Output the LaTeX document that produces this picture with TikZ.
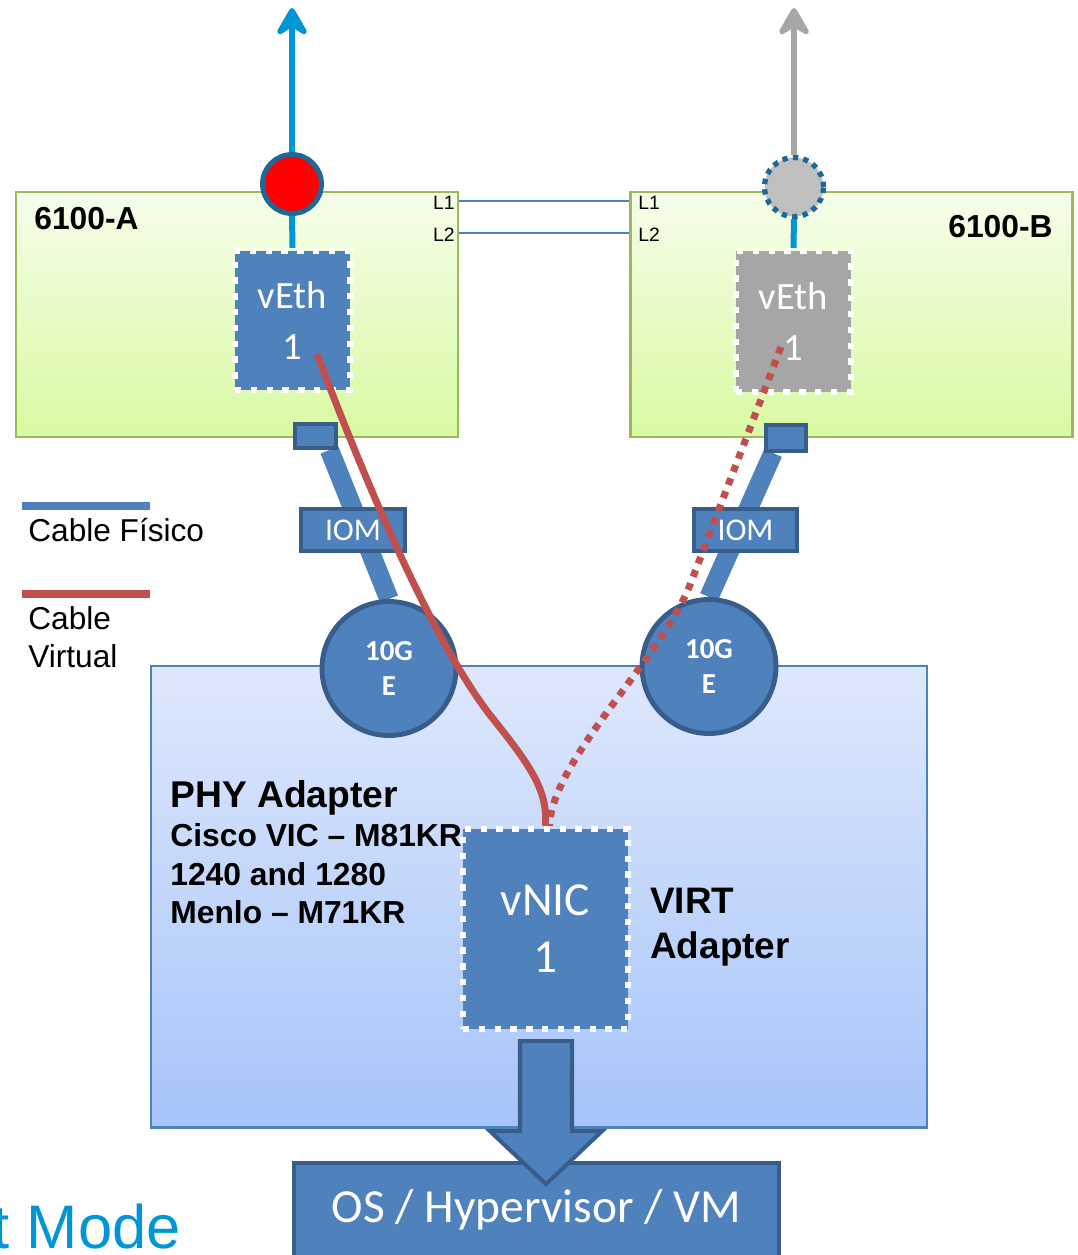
\documentclass[tikz,border=0pt]{standalone}
\usepackage{fontspec}
\setmainfont{Liberation Sans}
\newfontfamily\calibri{Carlito}
\usepackage{tikz}
\usetikzlibrary{arrows.meta, positioning, backgrounds}
\definecolor{ucsblue}{RGB}{79, 129, 189}
\definecolor{ucsdark}{RGB}{56, 93, 138}
\definecolor{ucscyan}{RGB}{0, 150, 214}
\definecolor{ucsred}{RGB}{192, 80, 77}
\definecolor{ucsgreen}{RGB}{155, 187, 89}
\definecolor{ucsgray}{RGB}{166, 166, 166}
\definecolor{ucsring}{RGB}{28, 104, 152}
\definecolor{limetop}{RGB}{246, 254, 234}
\definecolor{limebot}{RGB}{216, 250, 162}
\definecolor{phytop}{RGB}{222, 232, 252}
\definecolor{phybot}{RGB}{166, 196, 250}

\begin{document}
\begin{tikzpicture}[
    x=0.02cm, y=-0.02cm,
    fi/.style={
        rectangle, draw=ucsgreen, line width=1.2pt,
        top color=limetop, bottom color=limebot,
        minimum width=8.84cm, minimum height=4.9cm
    },
    adapter/.style={
        rectangle, draw=ucsblue, line width=1.2pt,
        top color=phytop, bottom color=phybot,
        minimum width=15.54cm, minimum height=9.24cm
    },
    vport/.style={
        rectangle, draw=white, line width=3.6pt,
        dash pattern=on 3.6pt off 5.4pt, text=white, align=center
    },
    hw/.style={
        rectangle, fill=ucsblue, draw=ucsdark, line width=2.3pt,
        text=white, inner sep=0pt, font=\calibri\fontsize{18}{20}\selectfont
    },
    tenge/.style={
        circle, fill=ucsblue, draw=ucsdark, line width=2.8pt,
        minimum size=2.68cm, text=white, align=center,
        font=\calibri\bfseries\fontsize{16.5}{20}\selectfont
    },
    uplink/.style={line width=3.4pt, -{Stealth[length=0.68cm, width=0.78cm, inset=0.24cm, round]}},
    downlink/.style={ucscyan, line width=3.4pt},
    link/.style={ucsblue, line width=1.2pt},
    phys/.style={ucsblue, line width=11pt},
    virt/.style={ucsred, line width=4pt},
    virtdot/.style={ucsred, line width=4pt, dash pattern=on 4pt off 4pt},
    lbl/.style={inner sep=0pt, anchor=base west, font=\fontsize{18}{22}\selectfont},
    title/.style={inner sep=0pt, anchor=base west, font=\bfseries\fontsize{18.1}{22}\selectfont}
]
\useasboundingbox (0,0) rectangle (1078,1255);
\clip (0,0) rectangle (1078,1255);

% fabric interconnects
\node[fi] (fia) at (237,314.5) {};
\node[fi] (fib) at (851.5,314.5) {};
\node[title] at (34,229) {6100-A};
\node[title, anchor=base east] at (1053,237) {6100-B};

\draw[link] ([yshift=-0.2cm]fia.north east) -- ([yshift=-0.2cm]fib.north west);
\draw[link] ([yshift=-0.84cm]fia.north east) -- ([yshift=-0.84cm]fib.north west);
\node[inner sep=0pt, anchor=base east, font=\fontsize{11}{13}\selectfont] at (455,209) {L1};
\node[inner sep=0pt, anchor=base east, font=\fontsize{11}{13}\selectfont] at (455,241) {L2};
\node[inner sep=0pt, anchor=base west, font=\fontsize{11}{13}\selectfont] at (638,209) {L1};
\node[inner sep=0pt, anchor=base west, font=\fontsize{11}{13}\selectfont] at (638,241) {L2};

% adapter card
\node[adapter] (phy) at (539,896.5) {};
\node[title, font=\bfseries\fontsize{21.2}{22}\selectfont] at (170,807) {PHY Adapter};
\node[title] at (170,846) {Cisco VIC – M81KR};
\node[title] at (170,885) {1240 and 1280};
\node[title] at (170,923) {Menlo – M71KR};
\node[title, font=\bfseries\fontsize{21}{25}\selectfont] at (650,913) {VIRT};
\node[title, font=\bfseries\fontsize{21}{25}\selectfont] at (650,958) {Adapter};

% ports, IOMs and uplinks
\node[hw, minimum width=0.82cm, minimum height=0.48cm] (porta) at (315.5,436) {};
\node[hw, minimum width=0.8cm, minimum height=0.52cm] (portb) at (786,438) {};
\node[hw, minimum width=2.08cm, minimum height=0.84cm] (ioma) at (353,530) {IOM};
\node[hw, minimum width=2.06cm, minimum height=0.84cm] (iomb) at (745.5,530) {IOM};
\node[tenge] (tenga) at (389,668.5) {10G\\E};
\node[tenge] (tengb) at (709,666.5) {10G\\E};

\begin{pgfonlayer}{background}
\draw[phys] ([xshift=0.28cm]porta.south) -- (tenga.north);
\draw[phys] ([xshift=-0.26cm]portb.south) -- (tengb.north);
\end{pgfonlayer}

% virtual interfaces
\node[vport, fill=ucsblue, minimum width=2.3cm, minimum height=2.78cm,
    font=\calibri\fontsize{22}{29.5}\selectfont] (vetha) at (292.5,320.5) {vEth\\1};
\node[vport, fill=ucsgray, minimum width=2.3cm, minimum height=2.82cm,
    font=\calibri\fontsize{22}{29.5}\selectfont] (vethb) at (793.5,321.5) {vEth\\1};
\node[vport, fill=ucsblue, minimum width=3.3cm, minimum height=4.0cm,
    font=\calibri\fontsize{27}{32.5}\selectfont] (vnic) at (545.5,929) {vNIC\\1};

\node[circle, fill=red, draw=ucsring, line width=2.8pt, minimum size=1.18cm, inner sep=0pt] (reda) at (292,184) {};
\node[circle, fill=gray!50, draw=ucsring, line width=3pt, dash pattern=on 3pt off 3pt,
    minimum size=1.18cm, inner sep=0pt] (grayb) at (794,187) {};
\coordinate (topa) at (292,8);
\coordinate (topb) at (794,8);
\draw[uplink, ucscyan] (reda.north) -- (topa);
\draw[downlink] (reda.south) -- (vetha.north);
\draw[uplink, ucsgray] (grayb.north) -- (topb);
\draw[downlink] (grayb.south) -- (vethb.north);

% virtual cables
\draw[virt] ([xshift=0.49cm, yshift=-0.67cm]vetha.center)
    .. controls (380,520) and (440,650) .. (490,715)
    .. controls (530,765) and (548,790) .. (vnic.north);
\draw[virtdot] ([xshift=-0.25cm, yshift=-0.51cm]vethb.center) -- (690,585)
    .. controls (660,660) and (552,760) .. ([xshift=0.08cm]vnic.north);

% host
\node[hw, minimum width=9.72cm, minimum height=1.91cm,
    font=\calibri\fontsize{27}{32}\selectfont] (os) at (536.5,1210.25) {OS / Hypervisor / VM};
\draw[fill=ucsblue, draw=ucsdark, line width=2.3pt, line join=miter]
    ([xshift=-0.51cm, yshift=-0.18cm]vnic.south) -- ++(0,90) -- ++(-30,0)
    -- ++(56,53) -- ++(56,-53) -- ++(-30,0) -- ++(0,-90) -- cycle;

% legend
\draw[ucsblue, line width=4pt] (22,506) -- (150,506);
\node[lbl] at (28,541) {Cable Físico};
\draw[ucsred, line width=4pt] (22,594) -- (150,594);
\node[lbl] at (28,629) {Cable};
\node[lbl] at (28,667) {Virtual};

\node[inner sep=0pt, anchor=base east, text=ucscyan, font=\fontsize{35}{40}\selectfont] at (181,1248) {t Mode};
\end{tikzpicture}
\end{document}
